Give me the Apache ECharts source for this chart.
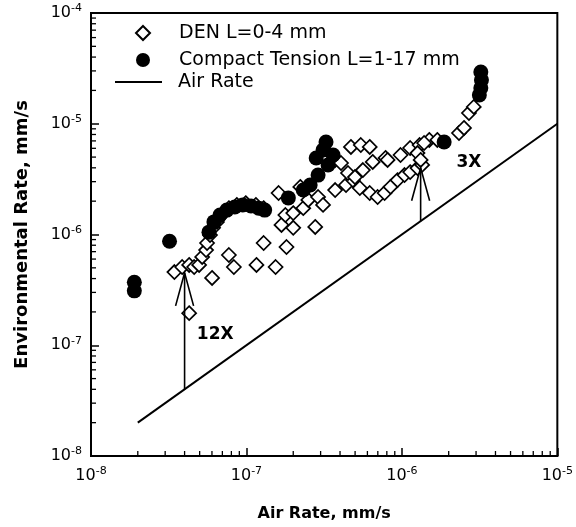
<!DOCTYPE html>
<html><head><meta charset="utf-8">
<script src="https://cdn.jsdelivr.net/npm/echarts@6/dist/echarts.min.js"></script>
<style>html,body{margin:0;padding:0;background:#fff}#c{width:576px;height:527px}</style>
</head><body><div id="c"></div>
<script>
// DEN specimens (L = 0-4 mm): [air rate, environmental rate] in mm/s
const denData = [
  [3.44e-8, 4.58e-7],[3.86e-8, 5.09e-7],[4.28e-8, 5.31e-7],[4.61e-8, 5.09e-7],[4.96e-8, 5.31e-7],
  [5.19e-8, 6.27e-7],[5.50e-8, 7.24e-7],[5.58e-8, 8.38e-7],[5.83e-8, 9.89e-7],[6.10e-8, 1.15e-6],
  [6.46e-8, 1.30e-6],[6.95e-8, 1.50e-6],[7.71e-8, 1.73e-6],[8.67e-8, 1.85e-6],[9.9e-8, 1.92e-6],
  [1.15e-7, 1.85e-6],[1.29e-7, 1.73e-6],[4.28e-8, 1.95e-7],[6.01e-8, 4.05e-7],[7.71e-8, 6.53e-7],
  [8.30e-8, 5.09e-7],[1.16e-7, 5.31e-7],[1.54e-7, 5.09e-7],[1.29e-7, 8.38e-7],[1.81e-7, 7.71e-7],
  [1.68e-7, 1.22e-6],[2.00e-7, 1.15e-6],[2.77e-7, 1.17e-6],[1.61e-7, 2.37e-6],[2.22e-7, 2.69e-6],
  [1.78e-7, 1.50e-6],[2.00e-7, 1.56e-6],[2.32e-7, 1.73e-6],[2.50e-7, 2.05e-6],[2.89e-7, 2.18e-6],
  [3.11e-7, 1.85e-6],[3.72e-7, 2.52e-6],[4.37e-7, 2.80e-6],[4.84e-7, 3.10e-6],[5.61e-7, 3.82e-6],
  [6.49e-7, 4.52e-6],[7.85e-7, 4.91e-6],[9.8e-7, 5.22e-6],[1.13e-6, 6.04e-6],[1.30e-6, 6.43e-6],
  [1.50e-6, 7.14e-6],[5.36e-7, 2.63e-6],[6.21e-7, 2.37e-6],[6.98e-7, 2.18e-6],[7.74e-7, 2.37e-6],
  [8.45e-7, 2.69e-6],[9.37e-7, 3.10e-6],[1.04e-6, 3.44e-6],[1.13e-6, 3.66e-6],[1.26e-6, 3.98e-6],
  [1.35e-6, 4.25e-6],[4.70e-7, 6.17e-6],[5.44e-7, 6.43e-6],[6.21e-7, 6.17e-6],[3.72e-7, 4.71e-6],
  [4.06e-7, 4.42e-6],[4.50e-7, 3.59e-6],[4.99e-7, 3.30e-6],[8.09e-7, 4.71e-6],[1.26e-6, 5.44e-6],
  [1.39e-6, 6.70e-6],[2.33e-6, 8.25e-6],[2.51e-6, 9.16e-6],[2.70e-6, 1.25e-5],[2.90e-6, 1.42e-5],
  [1.69e-6, 7.14e-6],[1.32e-6, 4.71e-6]
];
// Compact tension specimens (L = 1-17 mm)
const ctData = [
  [1.9e-8, 3.7e-7],[1.9e-8, 3.1e-7],[3.2e-8, 8.7e-7],
  [5.74e-8, 1.05e-6],[6.18e-8, 1.30e-6],[6.76e-8, 1.50e-6],[7.48e-8, 1.66e-6],[8.42e-8, 1.77e-6],
  [9.47e-8, 1.85e-6],[1.07e-7, 1.81e-6],[1.20e-7, 1.73e-6],[1.31e-7, 1.66e-6],
  [1.86e-7, 2.14e-6],[2.32e-7, 2.52e-6],[2.57e-7, 2.80e-6],[2.89e-7, 3.44e-6],[2.81e-7, 4.91e-6],
  [3.11e-7, 5.79e-6],[3.35e-7, 4.24e-6],[3.25e-7, 6.84e-6],[3.61e-7, 5.22e-6],
  [1.87e-6, 6.84e-6],[3.15e-6, 1.82e-5],[3.22e-6, 2.10e-5],[3.25e-6, 2.48e-5],[3.22e-6, 2.93e-5]
];
// Air rate reference line (environmental = air)
const airRate = [[2e-8, 2e-8], [1e-5, 1e-5]];
// Enhancement arrows
const arrowX = [4e-8, 1.32e-6];
const arrowBase = [4e-8, 1.32e-6];
const arrowTip = [4.5e-7, 4.0e-6];
const arrowLabels = ['12X', '3X'];
const arrowLabelX = [6.3e-8, 2.7e-6];
const arrowLabelY = [1.25e-7, 4.5e-6];
// Axes
const xRange = [1e-8, 1e-5];
const yRange = [1e-8, 1e-4];
const minorMantissas = [2, 3, 4, 5, 6, 7, 8, 9];
const xDecades = [1e-8, 1e-7, 1e-6];
const yDecades = [1e-8, 1e-7, 1e-6, 1e-5];
const seriesNames = ['DEN L=0-4 mm', 'Compact Tension L=1-17 mm', 'Air Rate'];

const xMinor = [], yMinor = [];
xDecades.forEach(d => minorMantissas.forEach(m => xMinor.push([m * d, yRange[0]])));
yDecades.forEach(d => minorMantissas.forEach(m => yMinor.push([xRange[0], m * d])));

const FONT = 'DejaVu Sans';
function powLabel(v) {
  return '{b|10}{s|' + Math.round(Math.log10(v)) + '}';
}
const labelRich = {
  b: { fontSize: 16, fontFamily: FONT, color: '#000', lineHeight: 20 },
  s: { fontSize: 11, fontFamily: FONT, color: '#000', verticalAlign: 'top', lineHeight: 12, padding: [0, 0, 6, 0] }
};
const legendText = { fontFamily: FONT, fontSize: 19, color: '#000', lineHeight: 22 };

const chart = echarts.init(document.getElementById('c'), null, { renderer: 'canvas' });
chart.setOption({
  animation: false,
  backgroundColor: '#fff',
  grid: { left: 91, right: 15, top: 13, bottom: 71, show: true, borderColor: '#000', borderWidth: 2 },
  legend: [
    {
      orient: 'vertical', left: 130, top: 17, itemWidth: 14, itemHeight: 14, itemGap: 5,
      data: [seriesNames[0], seriesNames[1]],
      textStyle: Object.assign({ padding: [0, 0, 0, 24] }, legendText)
    },
    {
      orient: 'vertical', left: 110, top: 66, itemWidth: 47, itemHeight: 2, itemGap: 5,
      data: [{ name: seriesNames[2], icon: 'rect' }],
      textStyle: Object.assign({ padding: [0, 0, 0, 11] }, legendText)
    }
  ],
  xAxis: {
    type: 'log', logBase: 10, min: xRange[0], max: xRange[1],
    name: 'Air Rate, mm/s', nameLocation: 'middle', nameGap: 50,
    nameTextStyle: { fontFamily: FONT, fontSize: 16, fontWeight: 'bold', color: '#000' },
    axisLine: { show: true, lineStyle: { color: '#000', width: 2 } },
    axisTick: { show: true, inside: true, length: 8, lineStyle: { color: '#000', width: 1.5 } },
    axisLabel: { formatter: powLabel, rich: labelRich, margin: 10 },
    splitLine: { show: false }
  },
  yAxis: {
    type: 'log', logBase: 10, min: yRange[0], max: yRange[1],
    name: 'Environmental Rate, mm/s', nameLocation: 'middle', nameGap: 60,
    nameTextStyle: { fontFamily: FONT, fontSize: 18, fontWeight: 'bold', color: '#000' },
    axisLine: { show: true, lineStyle: { color: '#000', width: 2 } },
    axisTick: { show: true, inside: true, length: 8, lineStyle: { color: '#000', width: 1.5 } },
    axisLabel: { formatter: powLabel, rich: labelRich, margin: 9 },
    splitLine: { show: false }
  },
  series: [
    {
      name: seriesNames[2], type: 'line', data: airRate, symbol: 'none',
      lineStyle: { color: '#000', width: 2 }, itemStyle: { color: '#000' }, z: 2
    },
    {
      name: seriesNames[0], type: 'scatter', data: denData, symbol: 'diamond', symbolSize: 14,
      itemStyle: { color: '#fff', borderColor: '#000', borderWidth: 1.7, opacity: 1 }, z: 3
    },
    {
      name: seriesNames[1], type: 'scatter', data: ctData, symbol: 'circle', symbolSize: 15,
      itemStyle: { color: '#000', opacity: 1 }, z: 4
    },
    {
      type: 'custom', name: 'xminor', data: xMinor, silent: true, z: 5,
      renderItem: (p, api) => {
        const c = api.coord([api.value(0), api.value(1)]);
        return { type: 'line', shape: { x1: c[0], y1: c[1], x2: c[0], y2: c[1] - 5 }, style: { stroke: '#000', lineWidth: 1.3 } };
      }
    },
    {
      type: 'custom', name: 'yminor', data: yMinor, silent: true, z: 5,
      renderItem: (p, api) => {
        const c = api.coord([api.value(0), api.value(1)]);
        return { type: 'line', shape: { x1: c[0], y1: c[1], x2: c[0] + 5, y2: c[1] }, style: { stroke: '#000', lineWidth: 1.3 } };
      }
    },
    {
      type: 'custom', name: 'arrows', silent: true, z: 6,
      data: arrowX.map((x, i) => [x, arrowBase[i], arrowTip[i]]),
      encode: { x: 0, y: [1, 2] },
      renderItem: (p, api) => {
        const b = api.coord([api.value(0), api.value(1)]);
        const t = api.coord([api.value(0), api.value(2)]);
        return {
          type: 'group', children: [
            { type: 'line', shape: { x1: b[0], y1: b[1], x2: t[0], y2: t[1] }, style: { stroke: '#000', lineWidth: 1.6 } },
            { type: 'polyline', shape: { points: [[t[0] - 9, t[1] + 33], [t[0], t[1]], [t[0] + 9, t[1] + 33]] }, style: { stroke: '#000', fill: null, lineWidth: 1.6 } }
          ]
        };
      }
    },
    {
      type: 'custom', name: 'arrowLabels', silent: true, z: 6,
      data: arrowLabelX.map((x, i) => [x, arrowLabelY[i]]),
      renderItem: (p, api) => {
        const c = api.coord([api.value(0), api.value(1)]);
        return {
          type: 'text', x: c[0], y: c[1],
          style: { text: arrowLabels[p.dataIndex], fontFamily: FONT, fontSize: 17, fontWeight: 'bold', fill: '#000', align: 'center', verticalAlign: 'middle' }
        };
      }
    }
  ]
});
</script></body></html>
